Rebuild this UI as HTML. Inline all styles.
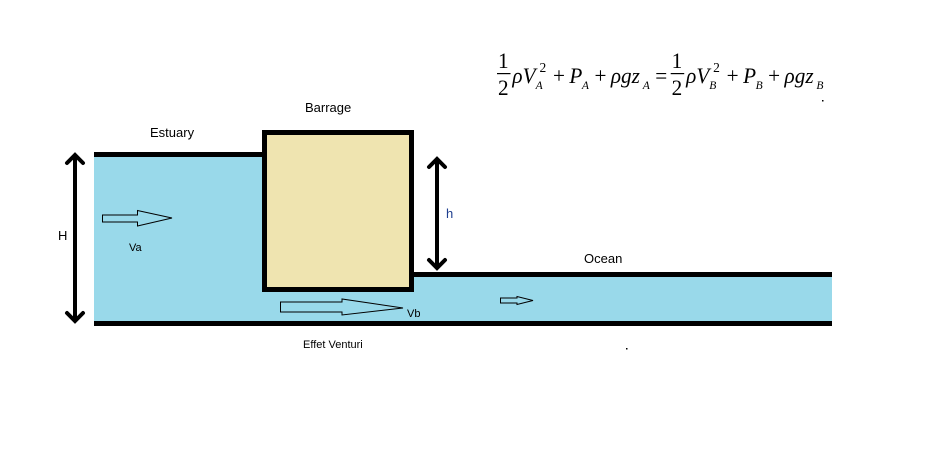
<!DOCTYPE html>
<html><head><meta charset="utf-8"><style>
body{margin:0;background:#fff;}
svg{display:block;}
</style></head><body>
<svg width="944" height="455" xmlns="http://www.w3.org/2000/svg" font-family="Liberation Sans, sans-serif">
<rect width="944" height="455" fill="#fff"/>
<rect x="94" y="154" width="170" height="170" fill="#99d9ea"/>
<rect x="264" y="274" width="568" height="50" fill="#99d9ea"/>
<rect x="94" y="152" width="170" height="5" fill="#000"/>
<rect x="94" y="321" width="738" height="5" fill="#000"/>
<rect x="412" y="272" width="420" height="5" fill="#000"/>
<rect x="264.5" y="132.5" width="147" height="157" fill="#efe4b0" stroke="#000" stroke-width="5"/>
<line x1="75" y1="155" x2="75" y2="321" stroke="#000" stroke-width="4"/>
<polyline points="67,163 75,155 83,163" fill="none" stroke="#000" stroke-width="4" stroke-linecap="round"/>
<polyline points="67,313 75,321 83,313" fill="none" stroke="#000" stroke-width="4" stroke-linecap="round"/>
<line x1="437" y1="159" x2="437" y2="268" stroke="#000" stroke-width="4"/>
<polyline points="429,167 437,159 445,167" fill="none" stroke="#000" stroke-width="4" stroke-linecap="round"/>
<polyline points="429,260 437,268 445,260" fill="none" stroke="#000" stroke-width="4" stroke-linecap="round"/>
<polygon points="102.5,215 137.5,215 137.5,210.5 172,218 137.5,226 137.5,222 102.5,222" fill="none" stroke="#000" stroke-width="1"/>
<polygon points="280.5,302 342,302 342,299 403,308 342,315 342,312 280.5,312" fill="none" stroke="#000" stroke-width="1"/>
<polygon points="500.5,298 517,298 517,296.5 533,300.5 517,304.5 517,303 500.5,303" fill="none" stroke="#000" stroke-width="1"/>
<g font-size="13" fill="#000">
<text x="150" y="137">Estuary</text>
<text x="305" y="112">Barrage</text>
<text x="584" y="263">Ocean</text>
<text x="58" y="240">H</text>
<text x="129" y="251" font-size="11">Va</text>
<text x="446" y="218" fill="#1f3f8f">h</text>
<text x="407" y="317" font-size="11">Vb</text>
<text x="303" y="348" font-size="11">Effet Venturi</text>
</g>
<rect x="626" y="348" width="1.5" height="1.5" fill="#000"/>
<rect x="822" y="100" width="1.5" height="1.5" fill="#000"/>
<g font-family="Liberation Serif, serif" font-size="22" fill="#000" transform="translate(497,0) scale(0.965,1) translate(-497,0)">
<text x="498" y="68">1</text>
<rect x="497" y="73" width="14" height="1.2" fill="#000"/>
<text x="498" y="95">2</text>
<text x="513" y="83" font-style="italic">ρV</text>
<text x="541" y="72" font-size="14">2</text>
<text x="537" y="89" font-size="12" font-style="italic">A</text>
<text x="555" y="83">+</text>
<text x="572" y="83" font-style="italic">P</text>
<text x="585" y="89" font-size="12" font-style="italic">A</text>
<text x="598" y="83">+</text>
<text x="615" y="83" font-style="italic">ρgz</text>
<text x="648" y="89" font-size="12" font-style="italic">A</text>
<text x="661" y="83">=</text>
<text x="678" y="68">1</text>
<rect x="677" y="73" width="14" height="1.2" fill="#000"/>
<text x="678" y="95">2</text>
<text x="693" y="83" font-style="italic">ρV</text>
<text x="721" y="72" font-size="14">2</text>
<text x="717" y="89" font-size="12" font-style="italic">B</text>
<text x="735" y="83">+</text>
<text x="752" y="83" font-style="italic">P</text>
<text x="765" y="89" font-size="12" font-style="italic">B</text>
<text x="778" y="83">+</text>
<text x="795" y="83" font-style="italic">ρgz</text>
<text x="828" y="89" font-size="12" font-style="italic">B</text>
</g>
</svg>
</body></html>
